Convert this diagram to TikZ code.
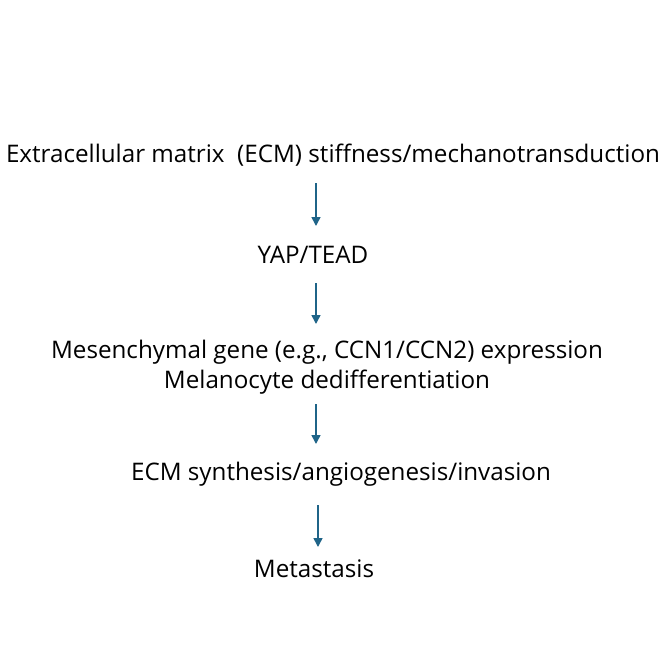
\documentclass[tikz,border=0pt]{standalone}
\usepackage{fontspec}
\setmainfont{Open Sans}
\usetikzlibrary{arrows.meta,calc,positioning}
\definecolor{flowblue}{HTML}{1F6488}
\tikzset{
  step text/.style={inner sep=0pt, font=\fontsize{24.2}{30}\selectfont, align=center},
  flow/.style={-{Triangle[length=9pt,width=9pt]}, flowblue, line width=1.6pt},
}
\begin{document}
\begin{tikzpicture}[x=1pt,y=-1pt]
  \useasboundingbox (0,0) rectangle (664,664);
  % steps
  \node[step text] (ecm)  at (333,155) {Extracellular matrix\ \ (ECM) stiffness/mechanotransduction};
  \node[step text] (yap)  at (313,255) {YAP/TEAD};
  \node[step text] (mes)  at (327,367) {Mesenchymal gene (e.g., CCN1/CCN2) expression\\Melanocyte dedifferentiation};
  \node[step text] (syn)  at (341,474) {ECM synthesis/angiogenesis/invasion};
  \node[step text] (meta) at (314,569) {Metastasis};
  % arrows
  \coordinate (axis) at (316,0);
  \draw[flow] (axis |- 0,183) -- (axis |- 0,226);
  \draw[flow] (axis |- 0,283) -- (axis |- 0,324);
  \draw[flow] (axis |- 0,404) -- (axis |- 0,444);
  \draw[flow] ($(axis |- 0,505)+(2,0)$) -- ($(axis |- 0,547)+(2,0)$);
\end{tikzpicture}
\end{document}
